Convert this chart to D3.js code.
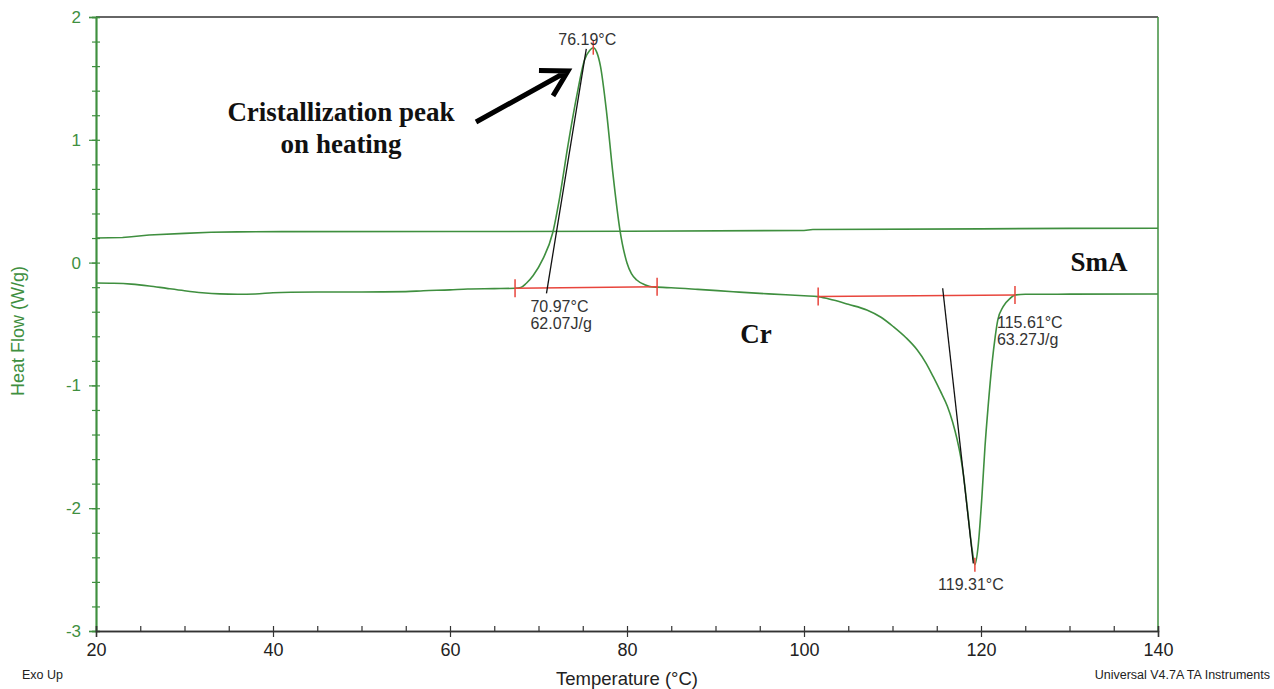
<!DOCTYPE html>
<html>
<head>
<meta charset="utf-8">
<script src="https://cdn.jsdelivr.net/npm/d3@7"></script>
<style>
  html, body { margin: 0; padding: 0; background: #fff; }
  svg { display: block; }
</style>
</head>
<body>
<svg id="chart" width="1274" height="689"></svg>
<script>
// ---------- data ----------
const heatingT = [20, 22, 24, 26, 28, 30, 32, 34, 36, 38, 40, 42, 45, 50, 55, 57, 60, 62, 65, 67.4, 68, 68.6, 69.4, 70.5, 71.6, 72.4, 73.3, 74.3, 75.2, 75.8, 76.19, 76.6, 77.0, 77.7, 78.4, 79.2, 80.0, 80.5, 81.1, 82.0, 82.9, 83.4, 85, 88, 92, 96, 100, 101.6, 103.3, 105, 107.1, 108.7, 110.1, 111.5, 112.8, 113.8, 114.6, 115.4, 116.2, 116.8, 117.3, 117.7, 118.0, 118.5, 119.0, 119.31, 119.66, 120.1, 120.45, 120.8, 121.25, 121.6, 121.9, 122.5, 123.3, 123.84, 125, 130, 140];
const heatingHF = [-0.166, -0.168, -0.175, -0.19, -0.21, -0.229, -0.245, -0.255, -0.258, -0.256, -0.245, -0.241, -0.24, -0.24, -0.236, -0.229, -0.222, -0.215, -0.212, -0.209, -0.203, -0.17, -0.105, 0.03, 0.241, 0.534, 0.942, 1.349, 1.65, 1.73, 1.75, 1.71, 1.6, 1.22, 0.73, 0.265, -0.003, -0.09, -0.142, -0.18, -0.199, -0.2, -0.205, -0.218, -0.237, -0.255, -0.27, -0.277, -0.305, -0.34, -0.386, -0.445, -0.522, -0.61, -0.712, -0.82, -0.929, -1.045, -1.17, -1.30, -1.44, -1.58, -1.72, -2.03, -2.34, -2.46, -2.32, -1.91, -1.5, -1.176, -0.818, -0.606, -0.467, -0.359, -0.291, -0.264, -0.258, -0.257, -0.256];

const coolingT = [20, 23, 24, 26, 30, 33, 36, 41, 60, 80, 100, 101, 120, 130, 140];
const coolingHF = [0.20, 0.205, 0.211, 0.225, 0.238, 0.247, 0.25, 0.252, 0.253, 0.255, 0.262, 0.27, 0.275, 0.279, 0.28];

// integration baselines (red) : start/end temperature and heat flow
const baseStartT = [67.35, 101.6];
const baseStartHF = [-0.209, -0.277];
const baseEndT = [83.4, 123.84];
const baseEndHF = [-0.196, -0.264];

// onset tangents (black)
const tanStartT = [70.9, 115.67];
const tanStartHF = [-0.25, -0.209];
const tanEndT = [75.4, 119.13];
const tanEndHF = [1.74, -2.449];

// peak markers
const peakT = [76.19, 119.31];
const peakHF = [1.75, -2.46];

const xTickLabels = [20, 40, 60, 80, 100, 120, 140];
const xMinorTicks = [20, 25, 30, 35, 40, 45, 50, 55, 60, 65, 70, 75, 80, 85, 90, 95, 100, 105, 110, 115, 120, 125, 130, 135, 140];
const yTickLabels = [2, 1, 0, -1, -2, -3];
const yMinorTicks = [2, 1.8, 1.6, 1.4, 1.2, 1, 0.8, 0.6, 0.4, 0.2, 0, -0.2, -0.4, -0.6, -0.8, -1, -1.2, -1.4, -1.6, -1.8, -2, -2.2, -2.4, -2.6, -2.8, -3];

// ---------- drawing ----------
const svg = d3.select("#chart");
const green = "#3f8f3f";
const red = "#e8453c";
const sans = "Arial, 'Liberation Sans', sans-serif";
const x = d3.scaleLinear().domain([20, 140]).range([96, 1158]);
const y = d3.scaleLinear().domain([-3, 2]).range([631, 17]);

// frame: top and right
svg.append("line").attr("x1", x(20)).attr("x2", x(140)).attr("y1", y(2)).attr("y2", y(2))
  .attr("stroke", "#333").attr("stroke-width", 1.5);
svg.append("line").attr("x1", x(140)).attr("x2", x(140)).attr("y1", y(2)).attr("y2", y(-3))
  .attr("stroke", green).attr("stroke-width", 1.5);

// left axis
const yAxis = svg.append("g").attr("transform", `translate(${x(20)},0)`)
  .call(d3.axisLeft(y).tickValues(yTickLabels).tickSize(7).tickPadding(8).tickFormat(d => String(d)));
const yMinor = svg.append("g").attr("transform", `translate(${x(20)},0)`)
  .call(d3.axisLeft(y).tickValues(yMinorTicks).tickSize(4).tickFormat(""));
const yInner = svg.append("g").attr("transform", `translate(${x(20)},0)`)
  .call(d3.axisRight(y).tickValues(yMinorTicks).tickSize(4).tickFormat(""));
[yAxis, yMinor, yInner].forEach(g => {
  g.select(".domain").attr("stroke", green).attr("stroke-width", 1.5);
  g.selectAll(".tick line").attr("stroke", green).attr("stroke-width", 1.2);
  g.selectAll(".tick text").attr("fill", green).attr("font-family", sans).attr("font-size", 17);
});

// bottom axis
const xAxis = svg.append("g").attr("transform", `translate(0,${y(-3)})`)
  .call(d3.axisBottom(x).tickValues(xTickLabels).tickSize(6).tickPadding(6).tickFormat(d => String(d)));
const xInner = svg.append("g").attr("transform", `translate(0,${y(-3)})`)
  .call(d3.axisTop(x).tickValues(xMinorTicks).tickSize(5).tickFormat(""));
[xAxis, xInner].forEach(g => {
  g.select(".domain").attr("stroke", "#333").attr("stroke-width", 1.5);
  g.selectAll(".tick line").attr("stroke", "#333").attr("stroke-width", 1.2);
  g.selectAll(".tick text").attr("fill", "#222").attr("font-family", sans).attr("font-size", 18);
});

// curves
const line = d3.line().x(d => x(d[0])).y(d => y(d[1])).curve(d3.curveMonotoneX);
const heating = heatingT.map((t, i) => [t, heatingHF[i]]);
const cooling = coolingT.map((t, i) => [t, coolingHF[i]]);
svg.append("path").datum(cooling).attr("d", d3.line().x(d => x(d[0])).y(d => y(d[1])))
  .attr("fill", "none").attr("stroke", green).attr("stroke-width", 1.6);
svg.append("path").datum(heating).attr("d", line)
  .attr("fill", "none").attr("stroke", green).attr("stroke-width", 1.6);

// red baselines with end ticks
baseStartT.forEach((t, i) => {
  svg.append("line").attr("x1", x(t)).attr("y1", y(baseStartHF[i]))
    .attr("x2", x(baseEndT[i])).attr("y2", y(baseEndHF[i]))
    .attr("stroke", red).attr("stroke-width", 1.5);
  [[t, baseStartHF[i]], [baseEndT[i], baseEndHF[i]]].forEach(p => {
    svg.append("line").attr("x1", x(p[0])).attr("x2", x(p[0]))
      .attr("y1", y(p[1]) - 9).attr("y2", y(p[1]) + 9)
      .attr("stroke", red).attr("stroke-width", 1.5);
  });
});

// tangent lines
tanStartT.forEach((t, i) => {
  svg.append("line").attr("x1", x(t)).attr("y1", y(tanStartHF[i]))
    .attr("x2", x(tanEndT[i])).attr("y2", y(tanEndHF[i]))
    .attr("stroke", "#111").attr("stroke-width", 1.3);
});

// peak markers
peakT.forEach((t, i) => {
  svg.append("line").attr("x1", x(t)).attr("x2", x(t))
    .attr("y1", y(peakHF[i]) - 7).attr("y2", y(peakHF[i]) + 7)
    .attr("stroke", red).attr("stroke-width", 1.5);
});

// annotation texts
const ann = (tx, ty, s, anchor) => svg.append("text").attr("x", tx).attr("y", ty)
  .attr("text-anchor", anchor || "start").attr("fill", "#333")
  .attr("font-family", sans).attr("font-size", 16).text(s);
ann(x(peakT[0]) - 6, y(peakHF[0]) - 3, "76.19°C", "middle");
ann(x(tanStartT[0]) - 16, y(-0.2) + 25, "70.97°C");
ann(x(tanStartT[0]) - 16, y(-0.2) + 42, "62.07J/g");
ann(x(baseEndT[1]) - 18, y(-0.264) + 33, "115.61°C");
ann(x(baseEndT[1]) - 18, y(-0.264) + 50, "63.27J/g");
ann(x(peakT[1]) - 4, y(peakHF[1]) + 25, "119.31°C", "middle");

// bold serif labels
const bold = (tx, ty, s, anchor) => svg.append("text").attr("x", tx).attr("y", ty)
  .attr("text-anchor", anchor || "middle").attr("fill", "#111").attr("font-weight", "bold")
  .attr("font-family", "'Liberation Serif', 'Times New Roman', serif").attr("font-size", 27).text(s);
bold(341, 121, "Cristallization peak");
bold(341, 153, "on heating");
bold(1099, 271, "SmA");
bold(756, 343, "Cr");

// arrow
const ax0 = x(62.94), ay0 = y(1.145), ax1 = x(73.33), ay1 = y(1.56);
const ang = Math.atan2(ay0 - ay1, ax0 - ax1);
const armLen = 29, spread = Math.PI / 6;
const arm1 = [ax1 + armLen * Math.cos(ang + spread), ay1 + armLen * Math.sin(ang + spread)];
const arm2 = [ax1 + armLen * Math.cos(ang - spread), ay1 + armLen * Math.sin(ang - spread)];
svg.append("path")
  .attr("d", `M${ax0},${ay0}L${ax1},${ay1}M${arm1[0]},${arm1[1]}L${ax1},${ay1}L${arm2[0]},${arm2[1]}`)
  .attr("fill", "none").attr("stroke", "#000").attr("stroke-width", 5)
  .attr("stroke-linecap", "butt").attr("stroke-linejoin", "miter");

// axis titles
svg.append("text").attr("transform", `translate(24,${331}) rotate(-90)`)
  .attr("text-anchor", "middle").attr("fill", green)
  .attr("font-family", sans).attr("font-size", 18)
  .text("Heat Flow (W/g)");
svg.append("text").attr("x", 627).attr("y", 685).attr("text-anchor", "middle").attr("fill", "#222")
  .attr("font-family", sans).attr("font-size", 18.5)
  .text("Temperature (°C)");
svg.append("text").attr("x", 22).attr("y", 679).attr("fill", "#222")
  .attr("font-family", sans).attr("font-size", 12.5)
  .text("Exo Up");
svg.append("text").attr("x", 1270).attr("y", 679).attr("text-anchor", "end").attr("fill", "#222")
  .attr("font-family", sans).attr("font-size", 12.5)
  .text("Universal V4.7A TA Instruments");
</script>
</body>
</html>
